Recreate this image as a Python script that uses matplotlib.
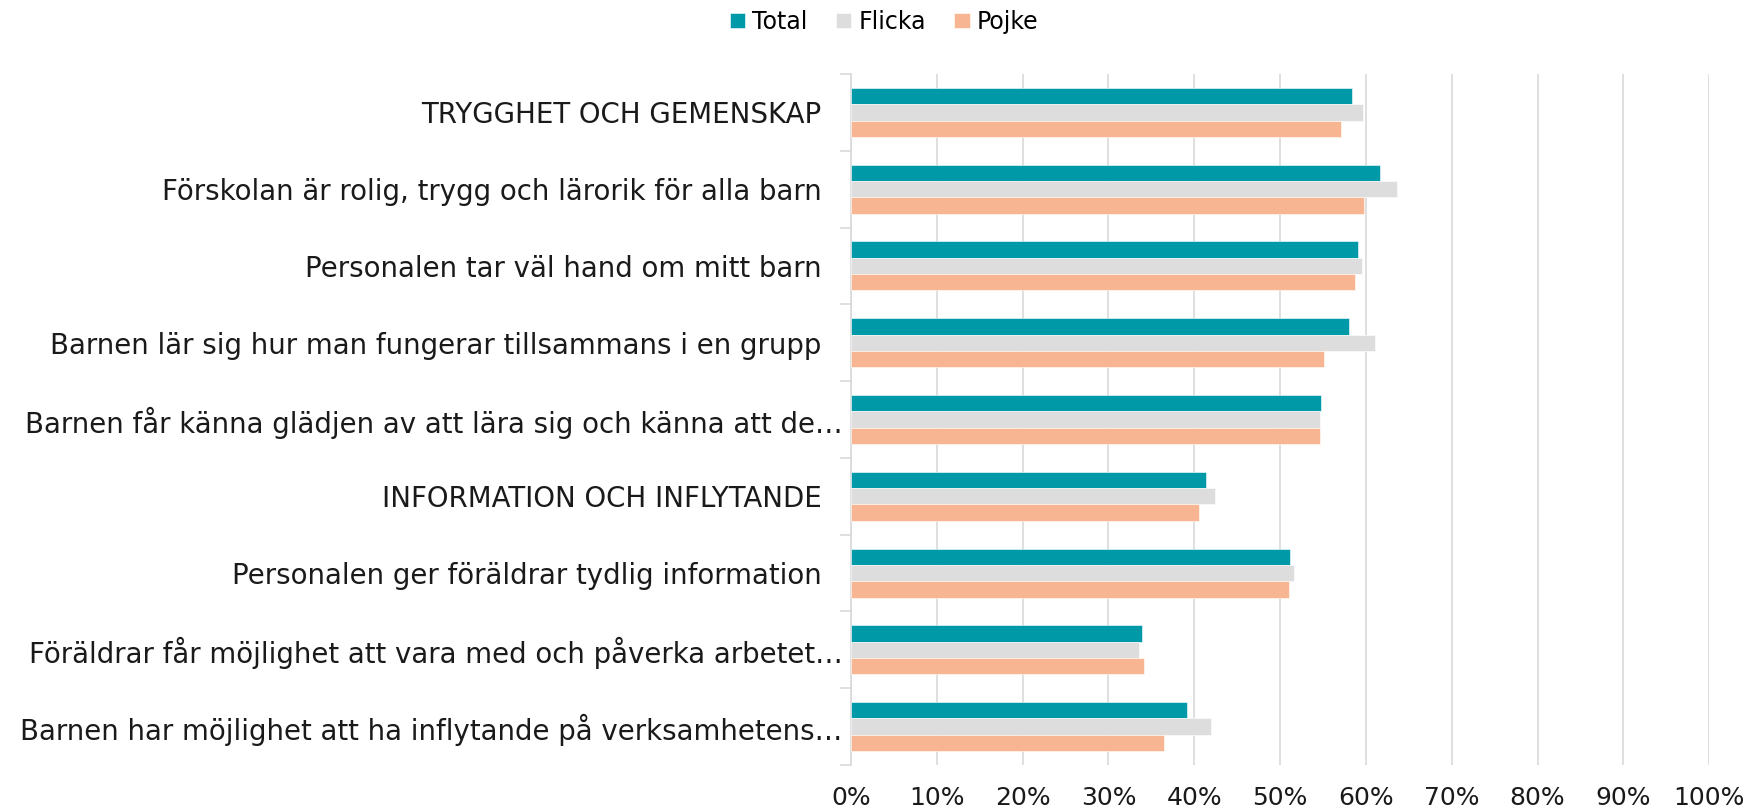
import numpy as np
import matplotlib
matplotlib.use('Agg')
import matplotlib.pyplot as plt
import matplotlib.transforms as mtransforms

plt.rcParams['font.family'] = ['DejaVu Sans']

# data (andel i procent)
categories = [
    'TRYGGHET OCH GEMENSKAP',
    'Förskolan är rolig, trygg och lärorik för alla barn',
    'Personalen tar väl hand om mitt barn',
    'Barnen lär sig hur man fungerar tillsammans i en grupp',
    'Barnen får känna glädjen av att lära sig och känna att de…',
    'INFORMATION OCH INFLYTANDE',
    'Personalen ger föräldrar tydlig information',
    'Föräldrar får möjlighet att vara med och påverka arbetet…',
    'Barnen har möjlighet att ha inflytande på verksamhetens…',
]
total = [58.4, 61.6, 59.1, 58.0, 54.8, 41.4, 51.2, 33.9, 39.2]
flicka = [59.7, 63.6, 59.6, 61.1, 54.7, 42.4, 51.6, 33.6, 42.0]
pojke = [57.1, 59.8, 58.7, 55.1, 54.7, 40.5, 51.0, 34.1, 36.5]
series_names = ['Total', 'Flicka', 'Pojke']
colors = ['#0099A8', '#DDDDDD', '#F8B592']
xticks = list(range(0, 101, 10))

fig = plt.figure(figsize=(17.44, 8.10), dpi=100)
ax = fig.add_axes([0.488, 0.0556, 0.492, 0.853])

y = np.arange(len(categories))
h = 0.213
for i, (vals, name, col) in enumerate(zip([total, flicka, pojke], series_names, colors)):
    ax.barh(y + (i - 1) * h, vals, height=h, color=col, label=name,
            edgecolor='white', linewidth=0.4, zorder=3)

ax.set_xlim(0, 100)
ax.set_ylim(len(categories) - 0.5, -0.5)
ax.set_xticks(xticks)
ax.set_xticklabels([f'{t}%' for t in xticks], fontsize=18, color='#1a1a1a')
ax.tick_params(axis='x', length=0, pad=15)
ax.grid(axis='x', color='#D9D9D9', linewidth=1.2, zorder=0)

ax.set_yticks(y)
ax.set_yticklabels(categories, fontsize=19.9, color='#1a1a1a')
ax.tick_params(axis='y', length=0, pad=6)
ax.set_yticks(np.arange(-0.5, len(categories)), minor=True)
ax.tick_params(axis='y', which='minor', length=8, color='#D9D9D9', width=1.2)

# labels without ellipsis end a bit further left
shift = mtransforms.ScaledTranslation(-21 / 100, 0, fig.dpi_scale_trans)
for lab in ax.get_yticklabels():
    if not lab.get_text().endswith('…'):
        lab.set_transform(lab.get_transform() + shift)

for s in ['top', 'right', 'bottom']:
    ax.spines[s].set_visible(False)
ax.spines['left'].set_color('#D9D9D9')
ax.spines['left'].set_linewidth(1.2)

fig.legend(loc='center', bbox_to_anchor=(0.507, 0.973), ncol=3, frameon=False,
           fontsize=17, handlelength=0.65, handleheight=0.65, handletextpad=0.3,
           columnspacing=1.2)

fig.savefig('out.png', dpi=100)
